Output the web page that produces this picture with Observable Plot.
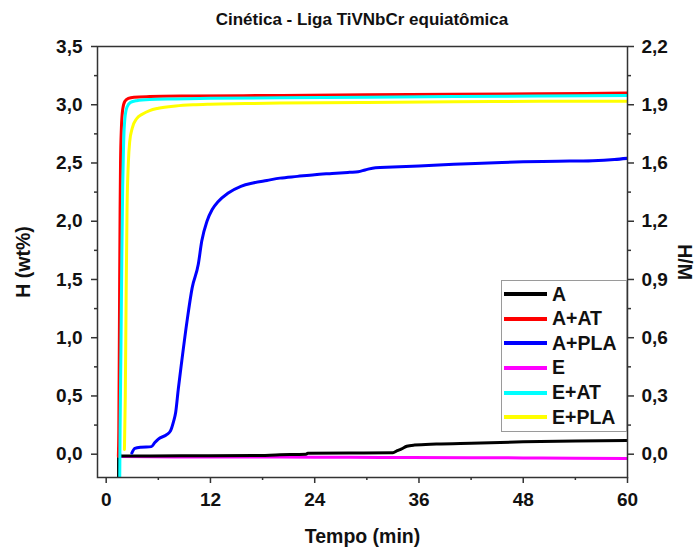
<!DOCTYPE html>
<html>
<head>
<meta charset="utf-8">
<script src="https://cdn.jsdelivr.net/npm/d3@7"></script>
<script src="https://cdn.jsdelivr.net/npm/@observablehq/plot@0.6"></script>
<style>
  html, body { margin: 0; padding: 0; background: #fff; }
  #wrap { position: relative; width: 695px; height: 547px; font-family: "Liberation Sans", Arial, sans-serif; }
  #title { position: absolute; left: 97px; width: 530px; top: 10px; text-align: center; font-weight: bold; font-size: 17px; color: #111; }
  #legend { position: absolute; left: 501px; top: 280px; width: 126px; height: 152px; border: 1px solid #9a9a9a; background: #fff; box-sizing: border-box; padding-top: 1px; }
  .row { display: flex; align-items: center; height: 24.6px; }
  .sw { width: 43px; height: 4px; margin-left: 2px; margin-right: 5px; }
  .lab { font-weight: bold; font-size: 19.5px; color: #111; line-height: 1; }
</style>
</head>
<body>
<div id="wrap">
  <div id="title"></div>
  <div id="chart"></div>
  <div id="legend"></div>
</div>
<script>
// ---- data ----
const seriesNames = ["A", "A+AT", "A+PLA", "E", "E+AT", "E+PLA"];
const seriesColors = ["#000000", "#ff0000", "#0000ff", "#ff00ff", "#00ffff", "#ffff00"];

const tA  = [1.42, 1.43, 1.47, 1.6, 5, 10, 17, 20, 23, 23.2, 28, 33, 33.5, 34, 34.6, 35.5, 38, 42, 48, 54, 60];
const vA  = [-0.3, 0.05, 0.04, -0.015, -0.015, -0.014, -0.012, -0.005, 0.0, 0.008, 0.01, 0.012, 0.03, 0.045, 0.068, 0.078, 0.087, 0.095, 0.106, 0.113, 0.118];

const tAAT = [1.4, 1.45, 1.5, 1.55, 1.6, 1.65, 1.75, 1.9, 2.15, 2.55, 3.2, 5, 10, 20, 30, 40, 50, 60];
const vAAT = [-0.02, 0.2, 0.8, 1.5, 2.1, 2.5, 2.8, 2.96, 3.03, 3.055, 3.065, 3.07, 3.075, 3.08, 3.085, 3.09, 3.095, 3.1];

const tAPLA = [2.95, 3.3, 4.0, 5.2, 5.6, 6.0, 7.0, 7.4, 7.75, 8.0, 8.3, 8.7, 9.3, 9.9, 10.6, 11.0, 11.6, 12.2, 12.9, 14, 15.5, 17, 18.5, 20, 22, 24, 26, 28, 29, 29.8, 31, 33, 36, 40, 44, 48, 52, 56, 58.5, 60];
const vAPLA = [0.01, 0.05, 0.06, 0.065, 0.1, 0.13, 0.17, 0.2, 0.28, 0.36, 0.56, 0.8, 1.14, 1.43, 1.63, 1.83, 2.0, 2.1, 2.17, 2.24, 2.3, 2.33, 2.35, 2.37, 2.385, 2.4, 2.41, 2.42, 2.425, 2.44, 2.46, 2.465, 2.475, 2.49, 2.5, 2.51, 2.515, 2.52, 2.53, 2.54];

const tE = [1.5, 5, 12, 20, 28, 35, 42, 48, 54, 60];
const vE = [-0.02, -0.022, -0.024, -0.025, -0.027, -0.028, -0.03, -0.032, -0.034, -0.037];

const tEAT = [1.55, 1.6, 1.7, 1.8, 1.9, 2.0, 2.15, 2.4, 2.8, 3.5, 5, 8, 12, 20, 30, 40, 50, 60];
const vEAT = [-0.3, 0.2, 0.9, 1.7, 2.3, 2.65, 2.88, 2.98, 3.02, 3.035, 3.045, 3.05, 3.055, 3.06, 3.065, 3.07, 3.075, 3.08];

const tEPLA = [2.1, 2.2, 2.3, 2.4, 2.55, 2.7, 3.0, 3.5, 4.2, 5, 6, 8, 10, 12, 16, 20, 30, 40, 50, 60];
const vEPLA = [0.04, 0.5, 1.4, 2.1, 2.5, 2.68, 2.8, 2.88, 2.92, 2.95, 2.97, 2.99, 3.0, 3.005, 3.01, 3.015, 3.02, 3.025, 3.03, 3.03];

const xTicks = [0, 12, 24, 36, 48, 60];
const xMinor = [6, 18, 30, 42, 54];
const yTicks = [0, 0.5, 1, 1.5, 2, 2.5, 3, 3.5];
const yMinor = [0.25, 0.75, 1.25, 1.75, 2.25, 2.75, 3.25];
const hmLabels = ["0,0", "0,3", "0,6", "0,9", "1,2", "1,6", "1,9", "2,2"];

const title = "Cinética - Liga TiVNbCr equiatômica";
const xLabel = "Tempo (min)";
const yLabel = "H (wt%)";
const y2Label = "H/M";

// ---- build table ----
const tArrs = [tA, tAAT, tAPLA, tE, tEAT, tEPLA];
const vArrs = [vA, vAAT, vAPLA, vE, vEAT, vEPLA];
const drawOrder = [3, 0, 1, 2, 4, 5];
const color = (name) => seriesColors[seriesNames.indexOf(name)];

const comma = (d) => d3.format(".1f")(d).replace(".", ",");
const axisStyle = { stroke: "#333", strokeWidth: 1.5 };

const marks = [];
for (const i of drawOrder) {
  const data = tArrs[i].map((t, j) => ({ t, v: vArrs[i][j], s: seriesNames[i] }));
  marks.push(Plot.line(data, { x: "t", y: "v", stroke: color(seriesNames[i]), strokeWidth: 3, clip: true, curve: "monotone-x" }));
}

const fontStyle = { fontFamily: "'Liberation Sans', Arial, sans-serif", fontWeight: "bold", fontSize: "19px", color: "#111" };

const chart = Plot.plot({
  width: 695,
  height: 547,
  marginLeft: 97,
  marginRight: 68,
  marginTop: 46,
  marginBottom: 70,
  style: fontStyle,
  x: { domain: [-1, 60] },
  y: { domain: [-0.2, 3.5] },
  marks: [
    ...marks,
    Plot.frame(axisStyle),
    Plot.axisX({ ticks: xTicks, tickSize: 6, tickPadding: 9, tickFormat: (d) => String(d), label: null, ...axisStyle, fill: "#111" }),
    Plot.axisX({ ticks: xMinor, tickSize: 3, tickFormat: () => "", label: null, ...axisStyle }),
    Plot.axisY({ ticks: yTicks, tickSize: 6, tickPadding: 9, tickFormat: comma, label: null, ...axisStyle, fill: "#111" }),
    Plot.axisY({ ticks: yMinor, tickSize: 3, tickFormat: () => "", label: null, ...axisStyle }),
    Plot.axisY({ anchor: "right", ticks: yTicks, tickSize: 6, tickPadding: 8, tickFormat: (d) => hmLabels[yTicks.indexOf(d)], label: null, ...axisStyle, fill: "#111" }),
    Plot.axisY({ anchor: "right", ticks: yMinor, tickSize: 3, tickFormat: () => "", label: null, ...axisStyle }),
    Plot.text([xLabel], { frameAnchor: "bottom", dy: 65, text: (d) => d, fontSize: 19.5, fontWeight: "bold", fill: "#111", textAnchor: "middle" }),
    Plot.text([yLabel], { frameAnchor: "left", dx: -74, rotate: -90, text: (d) => d, fontSize: 19.5, fontWeight: "bold", fill: "#111", textAnchor: "middle" }),
    Plot.text([y2Label], { frameAnchor: "right", dx: 57, rotate: 90, text: (d) => d, fontSize: 19.5, fontWeight: "bold", fill: "#111", textAnchor: "middle" })
  ]
});
document.getElementById("chart").appendChild(chart);
document.getElementById("title").textContent = title;

// legend
const leg = document.getElementById("legend");
seriesNames.forEach((name) => {
  const row = document.createElement("div");
  row.className = "row";
  const sw = document.createElement("div");
  sw.className = "sw";
  sw.style.background = color(name);
  const lab = document.createElement("span");
  lab.className = "lab";
  lab.textContent = name;
  row.appendChild(sw);
  row.appendChild(lab);
  leg.appendChild(row);
});
</script>
</body>
</html>
